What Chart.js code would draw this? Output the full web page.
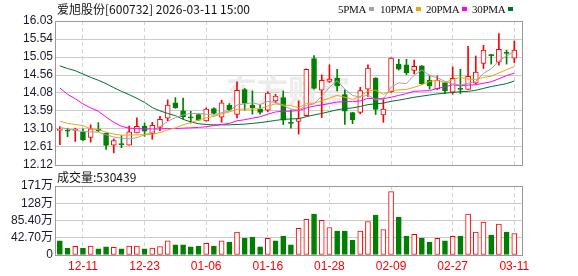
<!DOCTYPE html>
<html>
<head>
<meta charset="utf-8">
<script src="https://cdn.jsdelivr.net/npm/chart.js@4.4.1/dist/chart.umd.min.js"></script>
<style>
  html, body { margin: 0; padding: 0; background: #fff; }
  #wrap { position: relative; width: 578px; height: 276px; overflow: hidden; }
  #wrap canvas { position: absolute; left: 0; top: 0; }
  .txt { position: absolute; font: 12px "Noto Sans CJK SC", "Liberation Sans", sans-serif; color: #111; white-space: nowrap; line-height: 14px; }
  .lg { position: absolute; top: 2px; font: 11px "Liberation Serif", serif; color: #111; line-height: 14px; white-space: nowrap; letter-spacing: -0.3px; }
  .sw { position: absolute; top: 7px; width: 5px; height: 4px; }
</style>
</head>
<body>
<div id="wrap">
  <canvas id="price" width="578" height="276"></canvas>
  <canvas id="volume" width="578" height="276"></canvas>
  <div class="txt" id="title" style="left:57px;top:2px;"></div>
  <div id="legend"></div>
  <div class="txt" id="volLabel" style="left:57px;top:170px;"></div>
</div>
<script>
const stockName = '爱旭股份[600732]';
const stamp = '2026-03-11 15:00';

const dates = ['12-08','12-09','12-10','12-11','12-12','12-15','12-16','12-17','12-18','12-19',
  '12-22','12-23','12-24','12-25','12-26','12-29','12-30','12-31','01-05','01-06',
  '01-07','01-08','01-09','01-12','01-13','01-14','01-15','01-16','01-19','01-20',
  '01-21','01-22','01-23','01-26','01-27','01-28','01-29','01-30','02-02','02-03',
  '02-04','02-05','02-06','02-09','02-10','02-11','02-12','02-13','02-24','02-25',
  '02-26','02-27','03-02','03-03','03-04','03-05','03-06','03-09','03-10','03-11'];
const labelIdx = [3, 11, 19, 27, 35, 43, 51, 59];

const open = [13.06,13.06,13.06,13.02,12.87,13.09,12.98,12.66,12.70,12.66,
  12.99,13.18,12.98,13.14,13.39,13.81,13.59,13.43,13.49,13.32,
  13.65,13.42,13.75,13.49,14.17,13.75,13.63,13.61,13.86,13.95,
  13.28,13.30,13.46,15.01,14.15,14.39,14.48,14.03,13.54,13.55,
  14.18,14.48,13.48,14.11,14.86,14.84,14.69,14.81,14.42,14.19,
  14.36,14.10,14.20,14.17,14.34,14.88,15.11,14.91,15.17,15.02];
const high = [13.16,13.12,13.12,13.10,13.21,13.27,12.99,12.83,12.92,13.18,
  13.40,13.26,13.28,13.44,13.89,13.95,13.94,13.58,13.50,13.67,
  13.67,13.88,13.79,14.38,14.20,14.13,13.75,14.11,14.04,14.13,
  13.61,13.86,14.73,15.09,14.57,14.84,14.72,14.16,13.55,14.23,
  14.84,14.49,13.94,15.03,14.99,14.99,14.97,14.82,14.56,14.54,
  14.37,14.78,14.72,15.34,15.08,15.37,15.12,15.69,15.24,15.49];
const low = [12.67,12.89,12.76,12.78,12.74,13.03,12.54,12.45,12.59,12.66,
  12.99,12.90,12.82,13.05,13.32,13.66,13.37,13.26,13.33,13.31,
  13.50,13.28,13.59,13.40,13.61,13.50,13.50,13.57,13.81,13.22,
  13.12,12.96,13.45,14.18,13.41,14.36,14.13,13.22,13.24,13.51,
  13.98,13.49,13.28,14.09,14.70,14.57,14.59,14.31,14.18,14.17,
  14.06,14.04,14.06,14.17,14.32,14.74,14.86,14.83,14.86,14.90];
const close = [13.08,13.04,13.08,12.80,13.10,13.05,12.65,12.78,12.67,13.02,
  13.17,13.04,13.20,13.36,13.75,13.68,13.43,13.40,13.34,13.64,
  13.52,13.81,13.62,14.15,13.80,13.68,13.55,14.07,13.99,13.34,
  13.25,13.38,14.72,14.20,14.42,14.45,14.27,13.58,13.35,14.14,
  14.75,13.63,13.64,15.02,14.72,14.63,14.80,14.33,14.27,14.42,
  14.13,14.47,14.17,14.53,14.64,15.24,15.09,15.26,15.15,15.24];
const closeBefore = 13.15;

// volume in 万 shares
const volume = [35.3,17.3,21.5,17,22,15,20,19,15,22,
  22,15,17,21,35,25,25,20,22,29,
  22,35,32,57,42,44.5,20,41,35,47,
  25,66,88,101,86,68,59,59,37,59,
  83,99,63,157,94,47,51,42,32,41,
  35,46,47,101,57,81.5,49,76.5,57,53.0439];

const ma5 = [13.14,13.10,13.06,13.03,13.02,13.01,12.94,12.88,12.85,12.83,
  12.86,12.94,13.02,13.16,13.30,13.41,13.48,13.52,13.52,13.50,
  13.47,13.54,13.59,13.75,13.78,13.81,13.76,13.85,13.82,13.73,
  13.64,13.61,13.74,13.78,13.99,14.23,14.41,14.18,14.01,13.96,
  14.02,13.89,13.90,14.24,14.35,14.33,14.56,14.70,14.55,14.49,
  14.39,14.32,14.29,14.34,14.39,14.61,14.73,14.95,15.08,15.20];
const ma10 = [13.31,13.25,13.22,13.19,13.10,13.08,13.01,12.96,12.93,12.93,
  12.94,12.94,12.95,13.00,13.07,13.13,13.21,13.27,13.34,13.40,
  13.44,13.51,13.56,13.63,13.64,13.64,13.65,13.72,13.78,13.75,
  13.73,13.68,13.79,13.80,13.86,13.94,14.01,13.96,13.90,13.98,
  14.13,14.15,14.04,14.13,14.16,14.17,14.23,14.30,14.39,14.42,
  14.36,14.44,14.50,14.45,14.44,14.50,14.53,14.62,14.71,14.79];
const ma20 = [14.21,14.04,13.92,13.78,13.67,13.58,13.42,13.28,13.17,13.12,
  13.11,13.10,13.10,13.10,13.11,13.11,13.12,13.13,13.14,13.16,
  13.19,13.22,13.25,13.32,13.35,13.39,13.43,13.50,13.56,13.58,
  13.58,13.60,13.67,13.72,13.75,13.79,13.83,13.84,13.84,13.86,
  13.93,13.92,13.92,13.96,14.01,14.06,14.12,14.13,14.14,14.20,
  14.24,14.30,14.27,14.29,14.30,14.34,14.38,14.46,14.55,14.61];
const ma30 = [14.81,14.74,14.68,14.59,14.50,14.42,14.33,14.22,14.12,14.03,
  13.93,13.82,13.68,13.59,13.52,13.46,13.36,13.29,13.24,13.22,
  13.21,13.21,13.21,13.22,13.23,13.25,13.27,13.30,13.33,13.36,
  13.37,13.38,13.43,13.48,13.52,13.57,13.62,13.65,13.67,13.71,
  13.76,13.78,13.80,13.85,13.88,13.92,13.96,13.99,14.02,14.05,
  14.07,14.09,14.11,14.12,14.15,14.20,14.25,14.29,14.33,14.40];

const priceTicks = [12.12, 12.61, 13.10, 13.59, 14.08, 14.56, 15.05, 15.54, 16.03];
const volTicks = [0, 42.7, 85.4, 128.1, 170.8];
const volTickLabels = ['0', '42.70万', '85.40万', '128万', '171万'];

const maNames = ['5PMA', '10PMA', '20PMA', '30PMA'];
const maSeries = [ma5, ma10, ma20, ma30];
const maColors = ['#a3a3a3', '#f2a40f', '#ff00ff', '#006e32'];

const RED = '#ff0000';
const GREEN = '#008000';
const tickFont = { family: '"Liberation Sans", Arial, "Noto Sans CJK SC", sans-serif', size: 12 };

// header texts
document.getElementById('title').textContent = stockName + ' ' + stamp;
document.getElementById('volLabel').textContent = '成交量:' + Math.round(volume[volume.length - 1] * 10000);
const legendBox = document.getElementById('legend');
const legendLeft = [338, 380, 426, 472];
maNames.forEach((name, k) => {
  const t = document.createElement('div');
  t.className = 'lg';
  t.style.left = legendLeft[k] + 'px';
  t.textContent = name;
  legendBox.appendChild(t);
  const s = document.createElement('div');
  s.className = 'sw';
  s.style.background = maColors[k];
  s.style.left = (legendLeft[k] + t.getBoundingClientRect().width + 3) + 'px';
  legendBox.appendChild(s);
});

const up = close.map((c, i) => c >= open[i]);
const volUp = close.map((c, i) => c >= (i === 0 ? closeBefore : close[i - 1]));

const framePlugin = {
  id: 'frame',
  afterDraw(chart) {
    const { ctx, chartArea: a } = chart;
    ctx.save();
    ctx.strokeStyle = '#999';
    ctx.lineWidth = 1;
    ctx.strokeRect(a.left - 0.5, a.top + 0.5, a.right - a.left + 1, a.bottom - a.top);
    ctx.restore();
  },
};

const watermark = {
  id: 'watermark',
  beforeDatasetsDraw(chart) {
    const { ctx } = chart;
    ctx.save();
    ctx.fillStyle = '#ececec';
    ctx.font = 'bold 31px "Noto Sans CJK SC", sans-serif';
    ctx.textBaseline = 'middle';
    ctx.fillText('东方财富', 226, 90);
    ctx.restore();
  },
};

function xScale(showLabels, height) {
  return {
    type: 'linear',
    min: -0.5,
    max: 60,
    offset: false,
    grid: { offset: false, color: '#d4d4d4', drawTicks: false },
    border: { display: false, dash: [4, 3] },
    afterBuildTicks: (s) => { s.ticks = labelIdx.map((v) => ({ value: v })); },
    afterFit: (s) => { s.height = height; },
    ticks: {
      display: showLabels,
      autoSkip: false,
      maxRotation: 0,
      padding: 4,
      color: RED,
      font: tickFont,
      callback: (v) => dates[v],
    },
  };
}

const idx = dates.map((d, i) => i);

new Chart(document.getElementById('price'), {
  type: 'bar',
  data: {
    datasets: [
      ...maSeries.map((s, k) => ({
        type: 'line',
        data: s.map((v, i) => ({ x: i, y: v })),
        borderColor: maColors[k],
        borderWidth: 1,
        pointRadius: 0,
        tension: 0,
        order: 0,
      })),
      {
        type: 'bar',
        data: idx.map((i) => ({ x: i, y: [open[i], close[i]] })),
        backgroundColor: idx.map((i) => (up[i] ? '#ffffff' : GREEN)),
        borderColor: idx.map((i) => (up[i] ? RED : GREEN)),
        borderWidth: 1,
        borderSkipped: false,
        barThickness: 5,
        minBarLength: 1,
        grouped: false,
        order: 1,
      },
      {
        type: 'bar',
        data: idx.map((i) => ({ x: i, y: [low[i], high[i]] })),
        backgroundColor: idx.map((i) => (up[i] ? RED : GREEN)),
        borderWidth: 0,
        barThickness: 1,
        grouped: false,
        order: 2,
      },
    ],
  },
  options: {
    responsive: false,
    animation: false,
    events: [],
    layout: { padding: { left: 0, right: 56, top: 21, bottom: 111 } },
    plugins: { legend: { display: false }, tooltip: { enabled: false } },
    scales: {
      x: xScale(false, 0),
      y: {
        min: priceTicks[0],
        max: priceTicks[priceTicks.length - 1],
        grid: { color: '#cccccc', drawTicks: false },
        border: { display: false },
        afterBuildTicks: (s) => { s.ticks = priceTicks.map((v) => ({ value: v })); },
        afterFit: (s) => { s.width = 56; },
        ticks: { autoSkip: false, padding: 3, color: '#1a1a2e', font: tickFont, callback: (v) => Number(v).toFixed(2) },
      },
    },
  },
  plugins: [watermark, framePlugin],
});

new Chart(document.getElementById('volume'), {
  type: 'bar',
  data: {
    datasets: [
      {
        data: idx.map((i) => ({ x: i, y: volume[i] })),
        backgroundColor: idx.map((i) => (volUp[i] ? '#ffffff' : GREEN)),
        borderColor: idx.map((i) => (volUp[i] ? RED : GREEN)),
        borderWidth: 1,
        borderSkipped: false,
        barThickness: 5,
        grouped: false,
      },
    ],
  },
  options: {
    responsive: false,
    animation: false,
    events: [],
    layout: { padding: { left: 0, right: 56, top: 186, bottom: 0 } },
    plugins: { legend: { display: false }, tooltip: { enabled: false } },
    scales: {
      x: xScale(true, 21),
      y: {
        min: volTicks[0],
        max: volTicks[volTicks.length - 1],
        grid: { color: '#cccccc', drawTicks: false },
        border: { display: false },
        afterBuildTicks: (s) => { s.ticks = volTicks.map((v) => ({ value: v })); },
        afterFit: (s) => { s.width = 56; },
        ticks: { autoSkip: false, padding: 3, color: '#1a1a2e', font: tickFont, callback: (v, i) => volTickLabels[i] },
      },
    },
  },
  plugins: [framePlugin],
});
</script>
</body>
</html>
